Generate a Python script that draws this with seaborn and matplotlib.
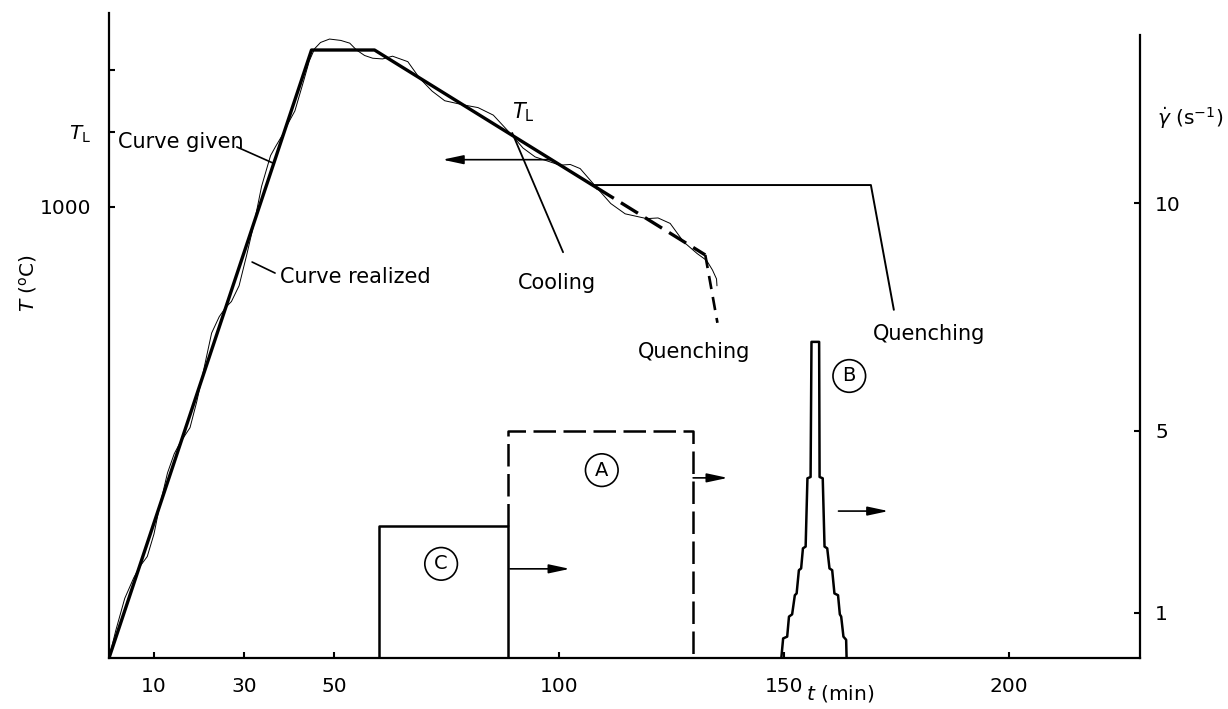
import matplotlib
matplotlib.use("Agg")
import matplotlib.pyplot as plt
import seaborn as sns

# ---------------- data ----------------
# programmed ("given") temperature curve, t in min, T in degC
given_t = [0, 45, 59, 108.4]
given_T = [342, 1229, 1229, 1028]
given_dash_t = [108.4, 132.5]
given_dash_T = [1028, 930]
quench1_t = [132.5, 135.2]
quench1_T = [930, 831]

# holding path then quenching (second experiment)
hold_t = [107.5, 169.3, 174.4]
hold_T = [1032, 1032, 850]

# realized temperature curve (thin, wavy)
real_t = [0, 1.5, 3.5, 5.5, 6.8, 8.5, 10.0, 11.2, 13.0, 14.5, 15.7, 18.0, 19.5, 20.5,
          22.8, 24.5, 26.0, 27.2, 28.9, 30.6, 32.4, 33.9, 35.9, 37.0, 38.8, 39.8, 41.3,
          43.3, 44.5, 45.7, 47.0, 49.0, 51.5, 53.5, 55.0, 56.8, 58.6, 60.8, 63.0, 66.4,
          69.0, 71.8, 74.6, 78.7, 82.0, 85.4, 89.5, 92.0, 94.7, 100.2, 102.5, 104.7,
          108.4, 111.5, 114.7, 119.5, 122.0, 124.7, 127.7, 130.7, 132.8, 134.1, 135.0, 135.1]
real_T = [342, 382, 429, 459, 475, 490, 523, 562, 612, 640, 655, 678, 716, 746,
          816, 840, 854, 862, 885, 930, 981, 1030, 1075, 1088, 1108, 1122, 1140,
          1185, 1213, 1231, 1240, 1245, 1243, 1239, 1229, 1221, 1217, 1216, 1220, 1212,
          1188, 1169, 1155, 1149, 1145, 1134, 1105, 1086, 1073, 1061, 1062, 1056,
          1028, 1005, 990, 983, 984, 976, 949, 932, 922, 908, 895, 885]

# shear-rate programmes (s^-1)
c_t = [59.9, 59.9, 88.6, 88.6]
c_rate = [0, 2.9, 2.9, 0]
a_t = [88.6, 88.6, 129.8, 129.8]
a_rate = [2.9, 5.0, 5.0, 0]
b_t = [149.4, 149.8, 150.7, 151.1, 151.8, 152.4, 152.8, 153.3, 153.8, 154.2, 154.8,
       155.2, 155.9, 156.1, 157.8, 157.9, 158.6, 159.0, 159.6, 160.1, 160.7, 161.2,
       162.0, 162.4, 162.7, 163.2, 163.8, 163.9]
b_rate = [0, 0.43, 0.47, 0.91, 0.96, 1.38, 1.42, 1.93, 1.97, 2.41, 2.45, 3.95, 3.98,
          6.95, 6.95, 3.98, 3.95, 2.45, 2.41, 1.97, 1.93, 1.42, 1.38, 0.96, 0.91,
          0.47, 0.40, 0]

x_ticks = [10, 30, 50, 100, 150, 200]
T_ticks = [1000, 1110, 1200]
T_ticklabels = ["1000", r"$T_\mathrm{L}$", ""]
rate_ticks = [1, 5, 10]

# ---------------- style ----------------
sns.set_theme(style="ticks")
plt.rcParams['font.family'] = ['DejaVu Sans']
plt.rcParams['mathtext.fontset'] = 'dejavusans'

W, H = 1228, 709
fig = plt.figure(figsize=(W / 100, H / 100), dpi=100)
fig.patch.set_facecolor("white")
ax = fig.add_axes([109 / W, 51 / H, (1140 - 109) / W, (658 - 13) / H])
ax.set_facecolor("none")
ax.set_xlim(0, 229.1)
ax.set_ylim(342, 1283)
ax2 = ax.twinx()
ax2.set_ylim(0, 14.18)

K = "black"
LW_THICK = 2.4
LW_THIN = 0.7
LW_BOX = 1.8

# temperature curves
sns.lineplot(x=given_t, y=given_T, ax=ax, color=K, lw=LW_THICK, sort=False, estimator=None)
sns.lineplot(x=given_dash_t, y=given_dash_T, ax=ax, color=K, lw=LW_THICK, sort=False,
             estimator=None, linestyle=(0, (6, 2.5)))
sns.lineplot(x=quench1_t, y=quench1_T, ax=ax, color=K, lw=LW_THICK * 0.8, sort=False,
             estimator=None, linestyle=(0, (5, 3)))
sns.lineplot(x=real_t, y=real_T, ax=ax, color=K, lw=LW_THIN, sort=False, estimator=None)
sns.lineplot(x=hold_t, y=hold_T, ax=ax, color=K, lw=1.4, sort=False, estimator=None)

# shear-rate curves
sns.lineplot(x=c_t, y=c_rate, ax=ax2, color=K, lw=LW_BOX, sort=False, estimator=None)
sns.lineplot(x=a_t, y=a_rate, ax=ax2, color=K, lw=LW_BOX, sort=False, estimator=None,
             linestyle=(0, (9, 3)))
sns.lineplot(x=b_t, y=b_rate, ax=ax2, color=K, lw=LW_BOX, sort=False, estimator=None)

# ---------------- axes ----------------
for s in ("top", "right"):
    ax.spines[s].set_visible(False)
for s in ("top", "left", "bottom"):
    ax2.spines[s].set_visible(False)
for s in ("left", "bottom"):
    ax.spines[s].set_linewidth(1.6)
    ax.spines[s].set_color(K)
ax2.spines["right"].set_linewidth(1.6)
ax2.spines["right"].set_color(K)
ax2.spines["right"].set_bounds(0, 13.69)

ax.set_xticks(x_ticks)
ax.set_xticklabels([str(v) for v in x_ticks])
ax.set_yticks(T_ticks)
ax.set_yticklabels(T_ticklabels)
ax2.set_yticks(rate_ticks)
ax2.set_yticklabels([str(v) for v in rate_ticks])
ax.tick_params(axis="x", direction="in", length=4, width=1.5, labelsize=14.5, pad=14, colors=K)
ax.tick_params(axis="y", direction="in", length=4, width=1.5, labelsize=14.5, pad=13, colors=K)
ax2.tick_params(axis="y", direction="in", length=4, width=1.5, labelsize=14.5, pad=11, colors=K)
ax.set_xlabel("")
ax.set_ylabel("")
ax2.set_ylabel("")
ax.grid(False)
ax2.grid(False)

fig.text(28 / W, 1 - 283 / H, r"$T$ ($^\mathrm{o}$C)", rotation=90, ha="center",
         va="center", fontsize=14.5, color=K)
fig.text(1190 / W, 1 - 118 / H, r"$\dot{\gamma}$ (s$^{-1}$)", ha="center", va="center",
         fontsize=14.5, color=K)
fig.text(840 / W, 1 - 694 / H, r"$t$ (min)", ha="center", va="center", fontsize=14.5,
         color=K)

# ---------------- annotations ----------------
FS = 15
ax.text(2.0, 1095, "Curve given", ha="left", va="center", fontsize=FS, color=K)
ax.plot([28.4, 36.4], [1087.6, 1064.2], color=K, lw=1.2)
ax.text(38.0, 898, "Curve realized", ha="left", va="center", fontsize=FS, color=K)
ax.plot([31.8, 36.9], [919.7, 903.6], color=K, lw=1.2)
ax.text(99.6, 889, "Cooling", ha="center", va="center", fontsize=FS, color=K)
ax.plot([89.6, 100.9], [1108, 934], color=K, lw=1.3)
ax.text(92.0, 1139, r"$T_\mathrm{L}$", ha="center", va="center", fontsize=FS, color=K)
ax.text(130.0, 788, "Quenching", ha="center", va="center", fontsize=FS, color=K)
ax.text(182.2, 815, "Quenching", ha="center", va="center", fontsize=FS, color=K)

arrow_kw = dict(arrowstyle="-|>,head_length=0.7,head_width=0.15", color=K, lw=1.2,
                shrinkA=0, shrinkB=0, mutation_scale=18)
ax.annotate("", xy=(74.1, 1069), xytext=(98.4, 1069), arrowprops=arrow_kw)
ax2.annotate("", xy=(102.4, 1.96), xytext=(89.1, 1.96), arrowprops=arrow_kw)
ax2.annotate("", xy=(137.5, 3.96), xytext=(129.8, 3.96), arrowprops=arrow_kw)
ax2.annotate("", xy=(173.2, 3.23), xytext=(162.1, 3.23), arrowprops=arrow_kw)

circ = dict(boxstyle="circle,pad=0.35", fc="white", ec=K, lw=1.2)
ax2.text(109.5, 4.13, "A", ha="center", va="center", fontsize=14, color=K, bbox=circ)
ax2.text(164.5, 6.2, "B", ha="center", va="center", fontsize=14, color=K, bbox=circ)
ax2.text(73.8, 2.07, "C", ha="center", va="center", fontsize=14, color=K, bbox=circ)

fig.savefig("out.png", dpi=100, facecolor="white")
